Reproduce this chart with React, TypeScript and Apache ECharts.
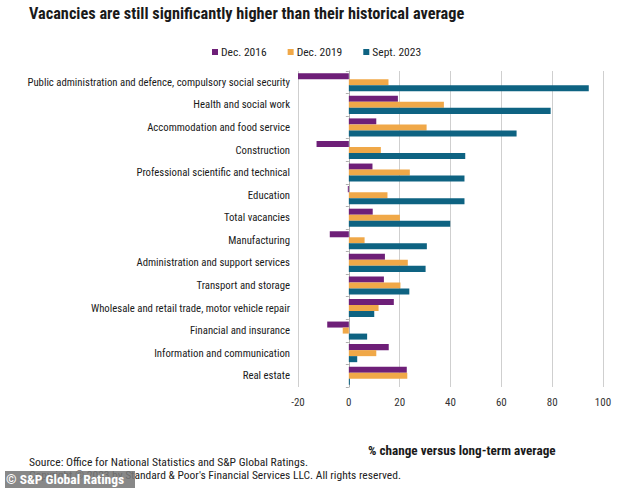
import React, { useEffect, useRef } from "react";
import * as echarts from "echarts";

const categories = [
  "Public administration and defence, compulsory social security",
  "Health and social work",
  "Accommodation and food service",
  "Construction",
  "Professional scientific and technical",
  "Education",
  "Total vacancies",
  "Manufacturing",
  "Administration and support services",
  "Transport and storage",
  "Wholesale and retail trade, motor vehicle repair",
  "Financial and insurance",
  "Information and communication",
  "Real estate",
];

const dec2016 = [-20.2, 19.3, 10.8, -12.7, 9.3, -0.4, 9.4, -7.5, 14.2, 13.8, 17.7, -8.5, 15.7, 22.8];
const dec2019 = [15.6, 37.4, 30.6, 12.6, 24.0, 15.2, 20.1, 6.2, 23.2, 20.3, 11.7, -2.4, 10.8, 23.0];
const sept2023 = [94.4, 79.4, 66.0, 45.8, 45.5, 45.5, 39.9, 30.7, 30.2, 23.8, 10.0, 7.2, 3.3, 0.4];

const seriesNames = ["Dec. 2016", "Dec. 2019", "Sept. 2023"];
const colors = ["#6e1f78", "#f0a848", "#0e6382"];

const FONT = "'Liberation Sans Narrow', 'Roboto Condensed', Roboto, sans-serif";

export default function App() {
  const ref = useRef<HTMLDivElement>(null);
  useEffect(() => {
    document.body.style.margin = "0";
    if (!ref.current) return;
    const chart = echarts.init(ref.current, undefined, { renderer: "svg" });
    const values = [dec2016, dec2019, sept2023];
    chart.setOption({
      animation: false,
      backgroundColor: "#ffffff",
      textStyle: { fontFamily: FONT },
      title: {
        text: "Vacancies are still significantly higher than their historical average",
        left: 24,
        top: 0,
        textStyle: { fontFamily: FONT, fontSize: 16.3, fontWeight: "bold", color: "#1a1a1a" },
      },
      legend: {
        data: seriesNames,
        left: 207,
        top: 41,
        icon: "rect",
        itemWidth: 6,
        itemHeight: 6,
        itemGap: 21,
        textStyle: { fontFamily: FONT, fontSize: 11.5, color: "#222", padding: [0, 0, 0, -2] },
      },
      grid: { left: 298, right: 31, top: 71, bottom: 101, containLabel: false },
      xAxis: {
        type: "value",
        min: -20,
        max: 100,
        interval: 20,
        axisLine: { show: false },
        axisTick: { show: false },
        axisLabel: { fontFamily: FONT, fontSize: 11, color: "#333", margin: 10 },
        splitLine: { show: true, lineStyle: { color: "#cfcfcf", width: 1 } },
      },
      yAxis: [
        {
          type: "category",
          data: categories,
          inverse: true,
          axisLine: { show: false, onZero: false },
          axisTick: { show: false },
          axisLabel: { fontFamily: FONT, fontSize: 10.75, color: "#1a1a1a", margin: 8 },
        },
        {
          type: "category",
          data: categories,
          inverse: true,
          position: "left",
          axisLine: { show: true, onZero: true, lineStyle: { color: "#b0b0b0", width: 1 } },
          axisTick: { show: true, length: 3, lineStyle: { color: "#b0b0b0" } },
          axisLabel: { show: false },
        },
      ],
      series: values.map((v, i) => ({
        name: seriesNames[i],
        type: "bar",
        data: v,
        yAxisIndex: 0,
        barGap: "0%",
        barCategoryGap: "20%",
        itemStyle: { color: colors[i] },
      })),
      graphic: [
        {
          type: "text",
          left: 368,
          top: 444,
          style: { text: "% change versus long-term average", font: `bold 13.2px ${FONT}`, fill: "#1a1a1a" },
        },
        {
          type: "text",
          left: 29,
          top: 456,
          style: { text: "Source: Office for National Statistics and S&P Global Ratings.", font: `11.6px ${FONT}`, fill: "#222" },
        },
        {
          type: "text",
          left: 29,
          top: 469,
          style: { text: "Copyright © 2023 by Standard & Poor's Financial Services LLC. All rights reserved.", font: `11.5px ${FONT}`, fill: "#222" },
        },
        {
          type: "rect",
          shape: { x: 5, y: 471, width: 130, height: 17 },
          style: { fill: "rgba(120,120,120,0.88)" },
        },
        {
          type: "text",
          left: 6,
          top: 472,
          style: { text: "© S&P Global Ratings", font: `bold 13.5px ${FONT}`, fill: "#ffffff" },
        },
      ],
    });
    return () => chart.dispose();
  }, []);
  return <div ref={ref} style={{ width: 634, height: 488 }} />;
}
